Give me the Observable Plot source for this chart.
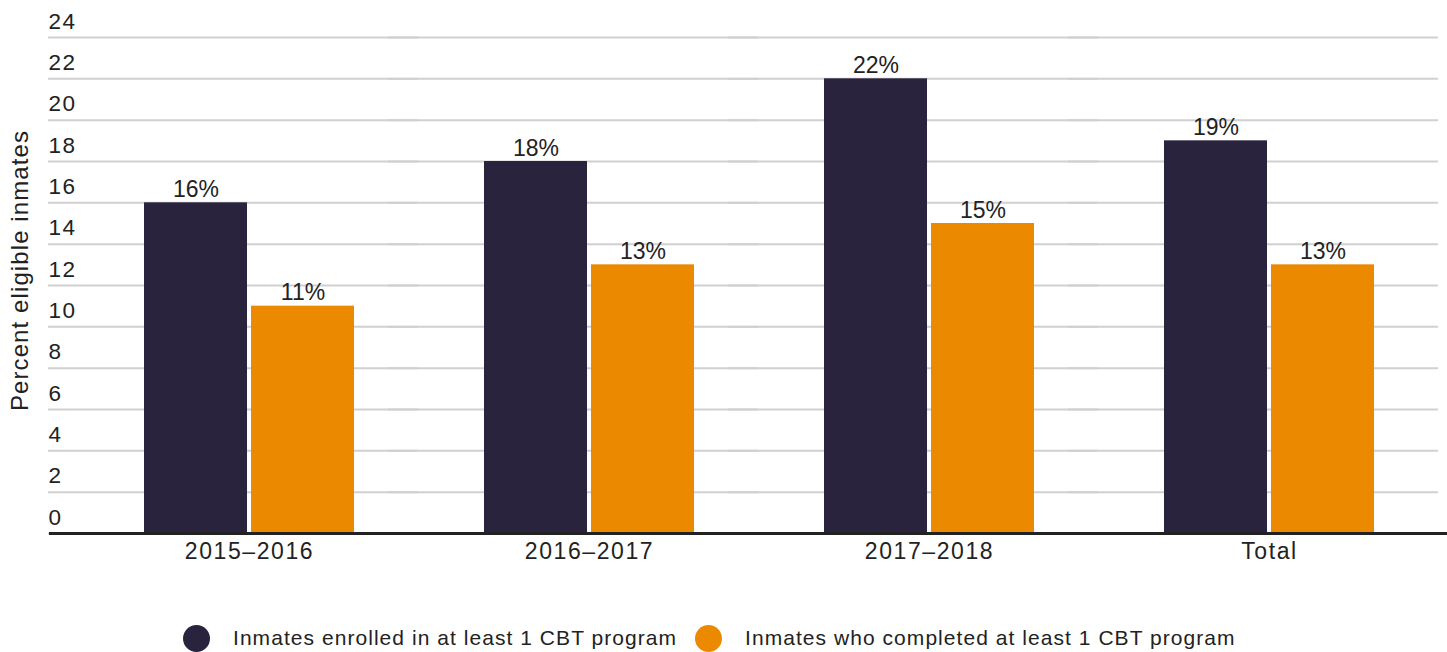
<!DOCTYPE html>
<html>
<head>
<meta charset="utf-8">
<script src="https://cdn.jsdelivr.net/npm/d3@7"></script>
<script src="https://cdn.jsdelivr.net/npm/@observablehq/plot@0.6"></script>
<style>
  html, body { margin: 0; padding: 0; background: #fff; }
  body { font-family: "Liberation Sans", Arial, sans-serif; color: #222; width: 1447px; height: 652px; overflow: hidden; }
  #legend { height: 56px; display: flex; align-items: center; padding-left: 183px; box-sizing: border-box; }
  .item { display: flex; align-items: center; }
  .swatch { width: 27px; height: 27px; border-radius: 50%; flex: none; }
  .label { font-size: 21px; letter-spacing: 1.05px; margin-left: 23px; margin-right: 18px; white-space: nowrap; }
  g[aria-label="fx-axis tick label"] { letter-spacing: 1.6px; }
  g[aria-label="y-axis tick label"] { letter-spacing: 1.5px; }
  g.ylabel { letter-spacing: 1.1px; }
</style>
</head>
<body>
<div id="chart"></div>
<div id="legend"></div>
<script>
// ---- data ----
const groups = ["2015–2016", "2016–2017", "2017–2018", "Total"];
const seriesNames = ["Inmates enrolled in at least 1 CBT program", "Inmates who completed at least 1 CBT program"];
const enrolled = [16, 18, 22, 19];
const completed = [11, 13, 15, 13];
const yTicks = [0, 2, 4, 6, 8, 10, 12, 14, 16, 18, 20, 22, 24];
const yLabel = "Percent eligible inmates";
const colors = ["#29233d", "#eb8a00"];

const data = groups.flatMap((g, i) => [
  {group: g, series: seriesNames[0], value: enrolled[i]},
  {group: g, series: seriesNames[1], value: completed[i]}
]);

const chart = Plot.plot({
  width: 1447,
  height: 610,
  marginLeft: 79,
  marginRight: 8,
  marginTop: 37,
  marginBottom: 77,
  style: {fontFamily: '"Liberation Sans", Arial, sans-serif', color: "#222", background: "#fff", overflow: "visible"},
  fx: {domain: groups, padding: 0, label: null},
  x: {domain: seriesNames, paddingInner: 0.0374, paddingOuter: 0.607, axis: null},
  y: {domain: [0, 24], label: null},
  color: {domain: seriesNames, range: colors},
  marks: [
    Plot.ruleY(yTicks, {stroke: "#d0d0d0", strokeWidth: 2, insetLeft: -31, insetRight: 1}),
    Plot.barY(data, {fx: "group", x: "series", y: "value", fill: "series"}),
    Plot.text(data, {fx: "group", x: "series", y: "value", text: d => d.value + "%", lineAnchor: "bottom", dy: -6, fontSize: 23, fill: "#222"}),
    Plot.ruleY([0], {stroke: "#222", strokeWidth: 3, insetLeft: -30, insetRight: -8}),
    Plot.axisY(yTicks, {tickSize: 0, tickPadding: 0, textAnchor: "start", dx: -31, dy: -16, fontSize: 22.5, label: null}),
    Plot.axisFx({anchor: "bottom", tickSize: 0, tickPadding: 9, fontSize: 23, label: null}),
    Plot.text([yLabel], {frameAnchor: "left", rotate: -90, textAnchor: "middle", dx: -59, dy: -15, fontSize: 24, fill: "#222", facet: "super", className: "ylabel"})
  ]
});
document.getElementById("chart").appendChild(chart);

const legend = document.getElementById("legend");
seriesNames.forEach((name, i) => {
  const item = document.createElement("div");
  item.className = "item";
  const sw = document.createElement("span");
  sw.className = "swatch";
  sw.style.background = colors[i];
  const lb = document.createElement("span");
  lb.className = "label";
  lb.textContent = name;
  item.appendChild(sw);
  item.appendChild(lb);
  legend.appendChild(item);
});
</script>
</body>
</html>
